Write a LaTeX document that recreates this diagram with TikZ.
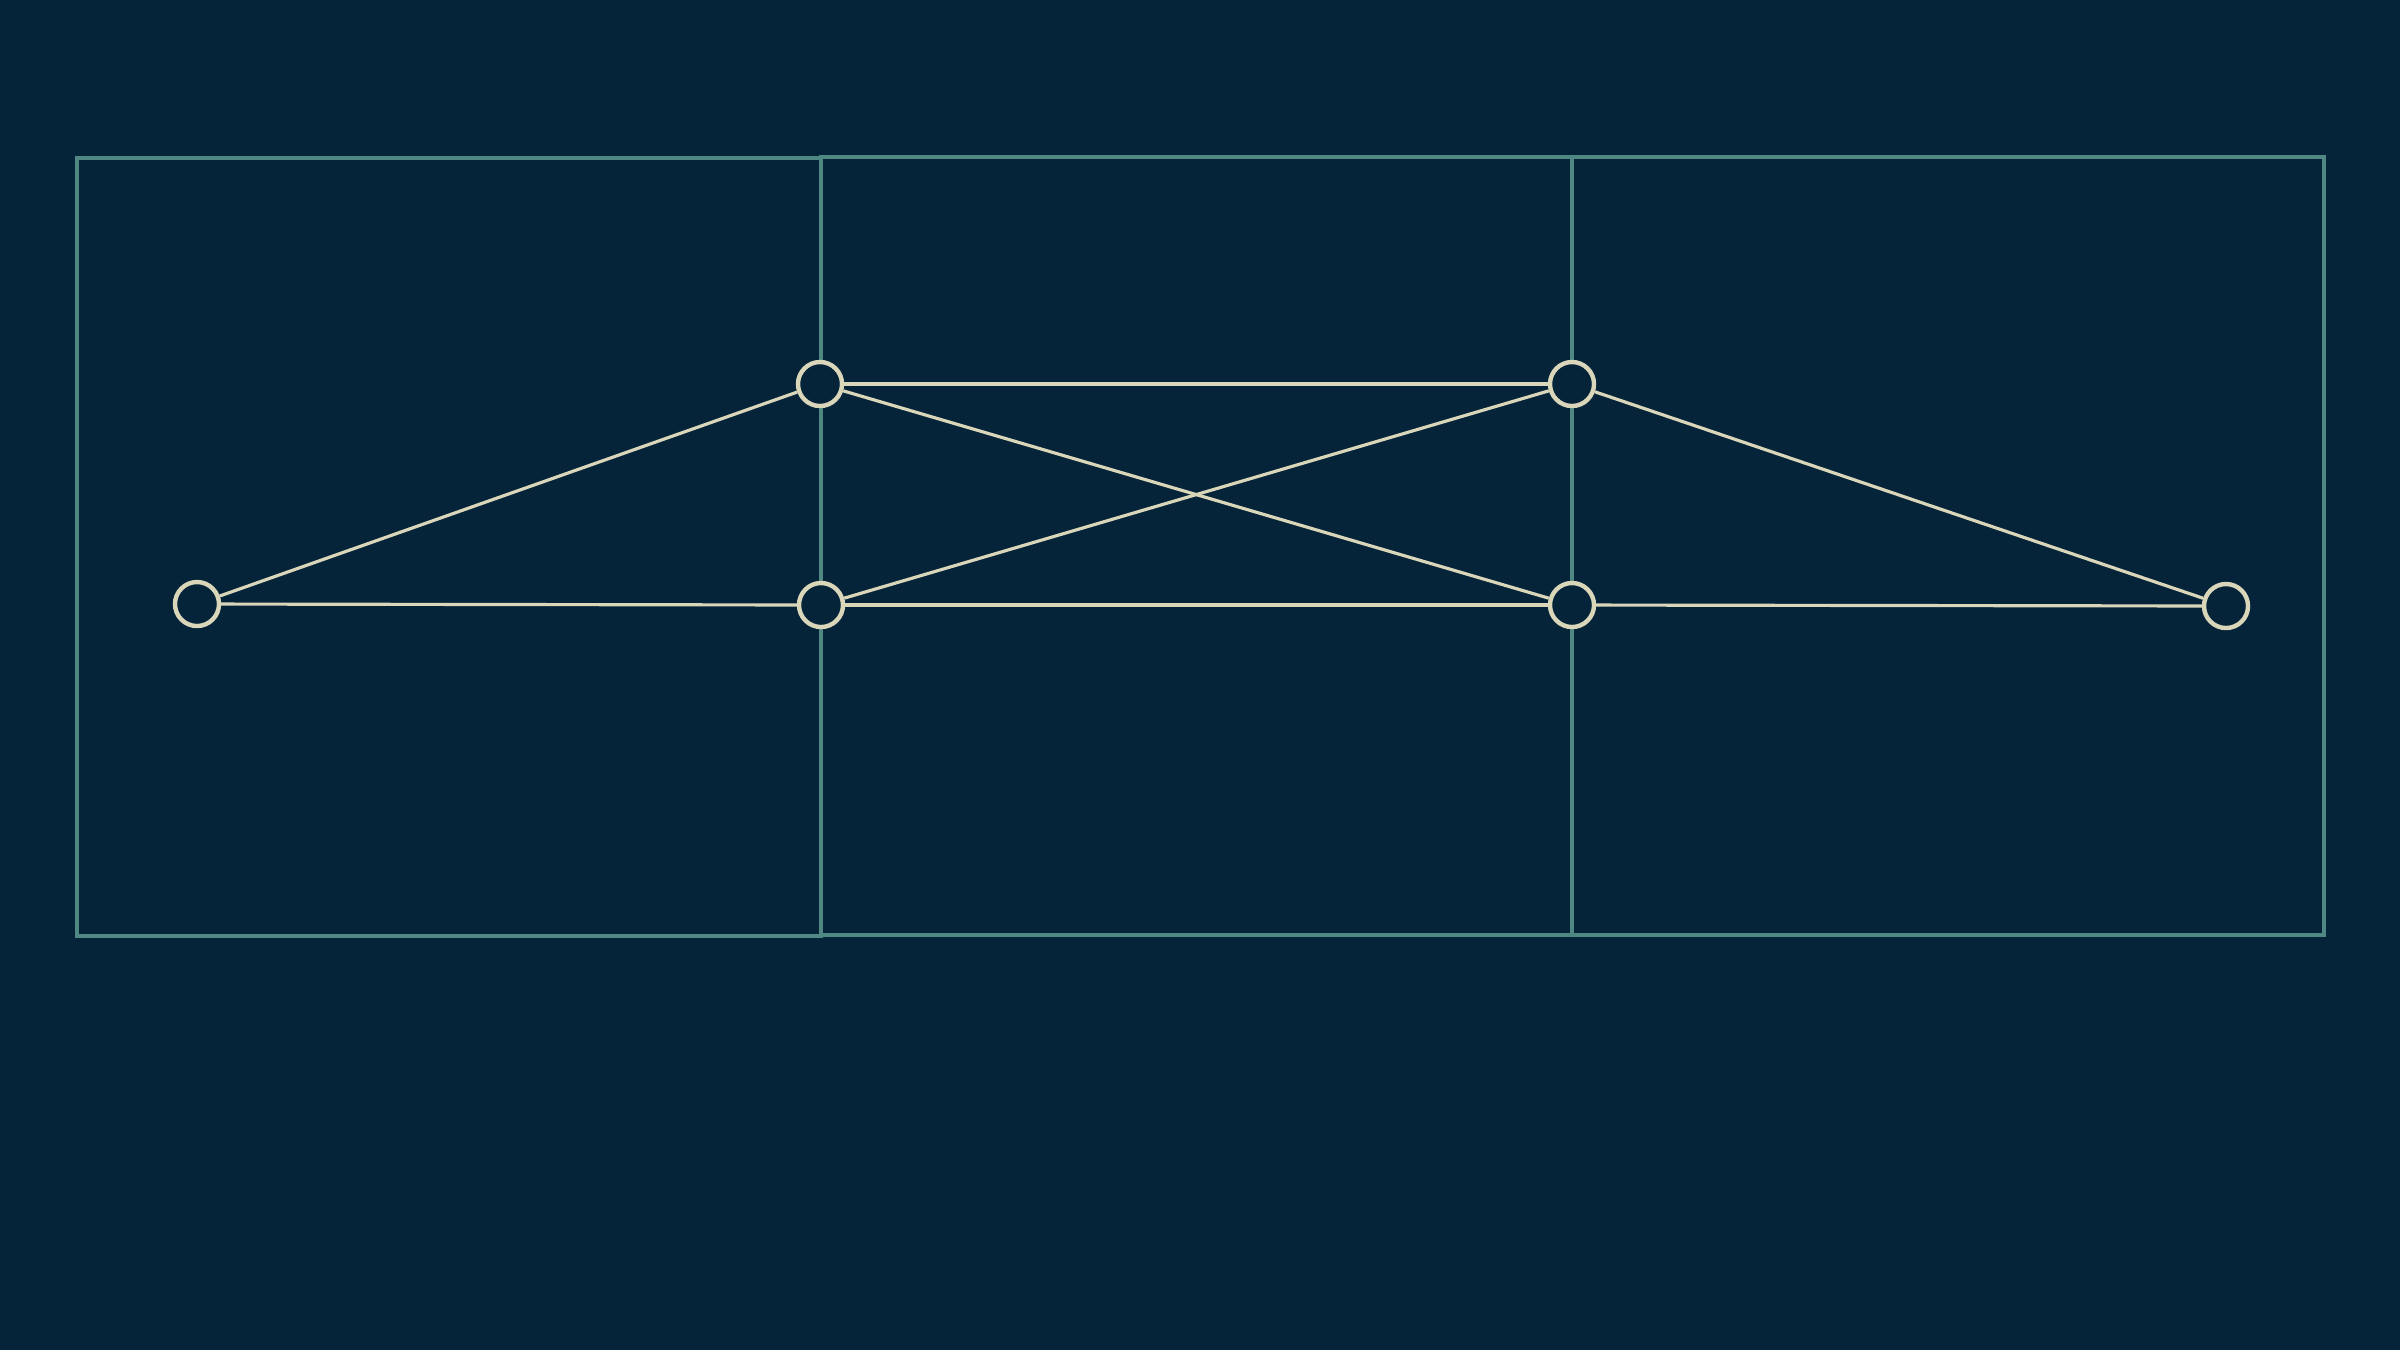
\documentclass[tikz,border=0pt]{standalone}
\definecolor{bgc}{HTML}{05243A}
\definecolor{gridc}{HTML}{4F8883}
\definecolor{nodec}{HTML}{D9D6B9}
\begin{document}
\begin{tikzpicture}[x=0.01cm,y=-0.01cm,
  cellbox/.style={draw=gridc,line width=0.9pt},
  vert/.style={circle,draw=nodec,fill=bgc,line width=1.25pt,minimum size=0.44cm,inner sep=0pt},
  edge/.style={draw=nodec,line width=0.9pt},
  thickedge/.style={draw=nodec,line width=1.15pt}]
\fill[bgc] (0,0) rectangle (2400,1350);
\useasboundingbox (0,0) rectangle (2400,1350);
\draw[cellbox] (77,158) rectangle (821,936);
\draw[cellbox] (821,157) rectangle (1572,935);
\draw[cellbox] (1572,157) rectangle (2324,935);
\node[vert] (a) at (197,604) {};
\node[vert] (b) at (820,384) {};
\node[vert] (c) at (821,605) {};
\node[vert] (d) at (1572,384) {};
\node[vert] (e) at (1572,605) {};
\node[vert] (f) at (2226,606) {};
\draw[edge] (a) -- (b);
\draw[edge] (a) -- (c);
\draw[thickedge] (b) -- (d);
\draw[edge] (b) -- (e);
\draw[edge] (d) -- (c);
\draw[thickedge] (c) -- (e);
\draw[edge] (d) -- (f);
\draw[edge] (e) -- (f);
\end{tikzpicture}
\end{document}
